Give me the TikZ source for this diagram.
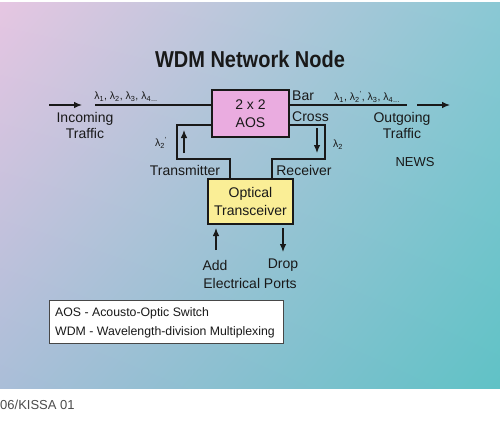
\documentclass[tikz,border=0pt]{standalone}
\usepackage{fontspec}
\setmainfont{Liberation Sans}
\usetikzlibrary{arrows.meta,calc,shadings}
\definecolor{bgUL}{RGB}{230,198,226}
\definecolor{bgUR}{RGB}{138,200,212}
\definecolor{bgLL}{RGB}{170,190,216}
\definecolor{bgLR}{RGB}{96,194,198}
\definecolor{aospink}{RGB}{234,172,224}
\definecolor{trxyellow}{RGB}{250,238,150}
\definecolor{ink}{RGB}{25,25,25}
\tikzset{
  wire/.style={draw=ink, line width=1.1pt},
  arr/.style={draw=ink, line width=1.1pt, -{Latex[length=8pt,width=6.5pt]}},
  blk/.style={draw=ink, line width=1.1pt, inner sep=0pt, align=center, font=\fontsize{14}{18.5}\selectfont, text=ink},
  lbl/.style={font=\fontsize{14}{16}\selectfont, text=ink, align=center, inner sep=0pt},
  lam/.style={font=\fontsize{10.5}{12}\selectfont, text=ink, inner sep=0pt},
}
\begin{document}
\begin{tikzpicture}[x=1pt,y=-1pt]
\useasboundingbox (0,0) rectangle (500,423);
\fill[white] (0,0) rectangle (500,423);
\shade[upper left=bgUL, upper right=bgUR, lower left=bgLL, lower right=bgLR] (0,2) rectangle (500,388);
% title
\node[font=\bfseries\fontsize{20}{24}\selectfont, text=ink] (title) at (250,59) {\scalebox{1}[1.15]{WDM Network Node}};
% blocks
\node[blk, fill=aospink, minimum width=77pt, minimum height=47pt] (aos) at (250.5,113.5) {2 x 2\\AOS};
\node[blk, fill=trxyellow, minimum width=85pt, minimum height=45pt, font=\fontsize{14}{18}\selectfont] (trx) at (250.5,201.5) {Optical\\Transceiver};
% coordinates
\coordinate (in1) at (49,105);
\coordinate (in2) at (82,105);
\coordinate (inL) at (95,105);
\coordinate (outR) at (407,105);
\coordinate (out1) at (417,105);
\coordinate (out2) at (450,105);
\coordinate (tl) at (177,125);
\coordinate (tx) at (230,159);
\coordinate (tr) at (325,125);
\coordinate (rx) at (272,159);
\coordinate (up1) at (184,153);
\coordinate (up2) at (184,130);
\coordinate (dn1) at (317,128);
\coordinate (dn2) at (317,153);
\coordinate (add1) at (216,250);
\coordinate (add2) at (216,228);
\coordinate (drop1) at (283,228);
\coordinate (drop2) at (283,252);
% connectors
\draw[arr] (in1) -- (in2);
\draw[wire] (inL) -- (inL -| aos.west);
\draw[wire] (aos.east |- outR) -- (outR);
\draw[arr] (out1) -- (out2);
\draw[wire] (aos.west |- tl) -- (tl) |- (tx) -- (tx |- trx.north);
\draw[wire] (aos.east |- tr) -- (tr) |- (rx) -- (rx |- trx.north);
\draw[arr] (up1) -- (up2);
\draw[arr] (dn1) -- (dn2);
\draw[arr] (add1) -- (add2);
\draw[arr] (drop1) -- (drop2);
% labels
\node[lam] (lamin) at (126,97) {λ\textsubscript{1}, λ\textsubscript{2}, λ\textsubscript{3}, λ\textsubscript{4}\textsubscript{...}};
\node[lam] (lamout) at (367,97) {λ\textsubscript{1}, λ\textsubscript{2}\textsuperscript{'}, λ\textsubscript{3}, λ\textsubscript{4}\textsubscript{...}};
\node[lbl] (incoming) at (85,125) {Incoming\\Traffic};
\node[lbl] (outgoing) at (402,125) {Outgoing\\Traffic};
\node[lbl, anchor=west] (bar) at (292,96) {Bar};
\node[lbl, anchor=west] (cross) at (292,117) {Cross};
\node[lam] (lam2p) at (161,143) {λ\textsubscript{2}\textsuperscript{'}};
\node[lam] (lam2) at (338,145) {λ\textsubscript{2}};
\node[lbl] (transmitter) at (185,170) {Transmitter};
\node[lbl] (receiver) at (304,170) {Receiver};
\node[lbl, font=\fontsize{13}{16}\selectfont] (news) at (415,162) {NEWS};
\node[lbl] (addl) at (215,265) {Add};
\node[lbl] (dropl) at (283,265) {Drop};
\node[lbl] (elec) at (250,283) {Electrical Ports};
% legend
\node[draw=ink!80, fill=white, line width=0.9pt, minimum width=234pt, minimum height=43pt, inner sep=0pt] (legend) at (166,321.5) {};
\node[lbl, anchor=west, font=\fontsize{12.3}{14}\selectfont] (leg1) at (55,313) {AOS - Acousto-Optic Switch};
\node[lbl, anchor=west, font=\fontsize{12.3}{14}\selectfont] (leg2) at (55,332) {WDM - Wavelength-division Multiplexing};
% footer
\node[lbl, anchor=west, text=black!70, font=\fontsize{13}{15}\selectfont] (credit) at (0,405) {06/KISSA 01};
\end{tikzpicture}
\end{document}
